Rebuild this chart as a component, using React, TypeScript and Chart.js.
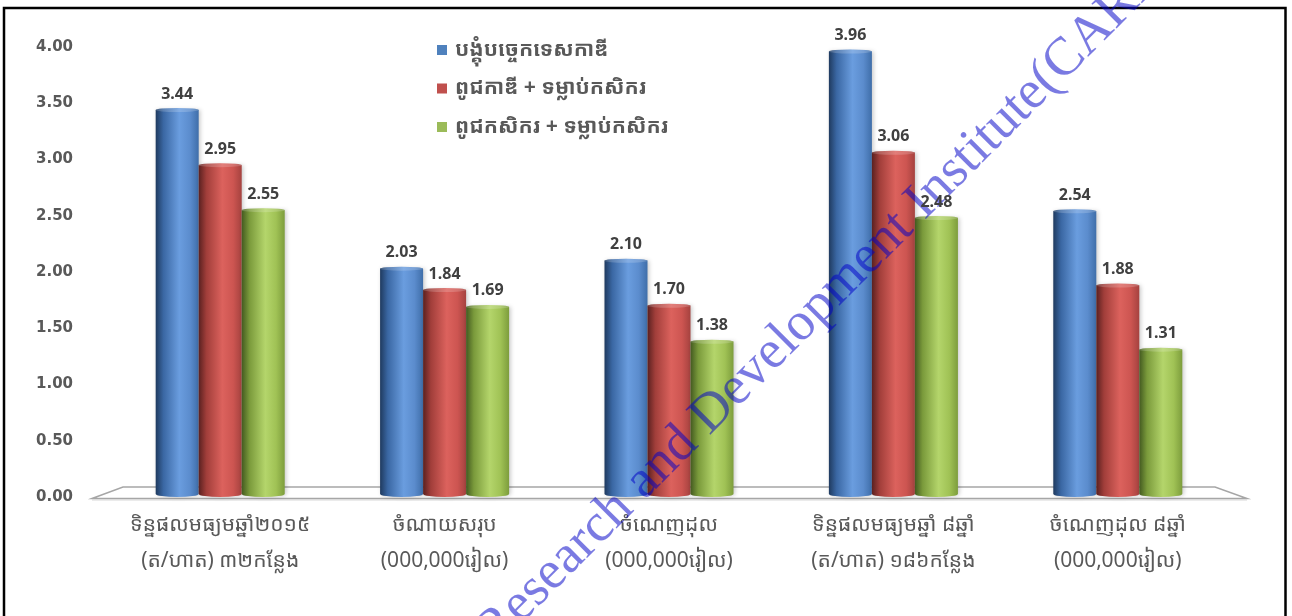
import React, { useEffect, useRef } from 'react';
import { Chart, registerables } from 'chart.js';

Chart.register(...registerables);

// Categories (two-line axis labels)
const categories: string[][] = [
  ['ទិន្នផលមធ្យមឆ្នាំ២០១៥', '(ត/ហាត) ៣២កន្លែង'],
  ['ចំណាយសរុប', '(000,000រៀល)'],
  ['ចំណេញដុល', '(000,000រៀល)'],
  ['ទិន្នផលមធ្យមឆ្នាំ ៨ឆ្នាំ', '(ត/ហាត) ១៨៦កន្លែង'],
  ['ចំណេញដុល ៨ឆ្នាំ', '(000,000រៀល)'],
];

// Series
const seriesNames: string[] = [
  'បង្គុំបច្ចេកទេសកាឌី',
  'ពូជកាឌី + ទម្លាប់កសិករ',
  'ពូជកសិករ + ទម្លាប់កសិករ',
];
const cardiPackage: number[] = [3.44, 2.03, 2.1, 3.96, 2.54];
const cardiVarietyFarmerPractice: number[] = [2.95, 1.84, 1.7, 3.06, 1.88];
const farmerVarietyFarmerPractice: number[] = [2.55, 1.69, 1.38, 2.48, 1.31];

// Value axis
const yMin = 0;
const yMax = 4;
const yStep = 0.5;

const watermarkText = 'Research and Development Institute(CARDI)';

const KHMER_FONT = "'Noto Sans Khmer', 'Khmer OS', 'Khmer OS System', 'Noto Sans', sans-serif";

const flatColors = ['#4f81bd', '#c0504d', '#9bbb59'];
const cylinderStops: Array<Array<[number, string]>> = [
  [
    [0, '#1f3a5f'],
    [0.18, '#3a67a3'],
    [0.55, '#6a9ddf'],
    [0.8, '#5b8ccd'],
    [1, '#3f6ea9'],
  ],
  [
    [0, '#5a2120'],
    [0.18, '#a13e3a'],
    [0.55, '#dc625d'],
    [0.8, '#cd5551'],
    [1, '#a5423f'],
  ],
  [
    [0, '#435a20'],
    [0.18, '#7a9a3b'],
    [0.55, '#b4d56b'],
    [0.8, '#a0c255'],
    [1, '#7d9d3c'],
  ],
];

function cylinderPath(ctx: CanvasRenderingContext2D, cx: number, top: number, bottom: number, w: number, ry: number) {
  const left = cx - w / 2;
  const right = cx + w / 2;
  ctx.beginPath();
  ctx.moveTo(left, top);
  ctx.lineTo(left, bottom - ry);
  ctx.ellipse(cx, bottom - ry, w / 2, ry, 0, Math.PI, 0, true);
  ctx.lineTo(right, top);
  ctx.closePath();
}

const framePlugin = {
  id: 'frame',
  beforeDraw(chart: any) {
    const ctx = chart.ctx as CanvasRenderingContext2D;
    ctx.save();
    ctx.strokeStyle = '#000';
    ctx.lineWidth = 2.5;
    ctx.beginPath();
    ctx.moveTo(4, chart.height + 10);
    ctx.lineTo(4, 8);
    ctx.lineTo(1285.5, 8);
    ctx.lineTo(1285.5, chart.height + 10);
    ctx.stroke();
    ctx.restore();
  },
};

const floorPlugin = {
  id: 'floor',
  beforeDatasetsDraw(chart: any) {
    const ctx = chart.ctx as CanvasRenderingContext2D;
    const { left, right, bottom } = chart.chartArea;
    const backY = bottom - 10;
    const frontY = bottom + 1.5;
    ctx.save();
    ctx.strokeStyle = '#a6a6a6';
    ctx.lineWidth = 1.5;
    ctx.beginPath();
    ctx.moveTo(left - 16, frontY);
    ctx.lineTo(left + 15, backY);
    ctx.lineTo(right - 15, backY);
    ctx.lineTo(right + 17, frontY);
    ctx.closePath();
    ctx.stroke();
    ctx.strokeStyle = 'rgba(190,190,190,0.6)';
    ctx.lineWidth = 1;
    ctx.beginPath();
    ctx.moveTo(left - 16, frontY + 1.5);
    ctx.lineTo(right + 17, frontY + 1.5);
    ctx.stroke();
    ctx.restore();
  },
};

const cylinderPlugin = {
  id: 'cylinders',
  afterDatasetsDraw(chart: any) {
    const ctx = chart.ctx as CanvasRenderingContext2D;
    ctx.save();
    chart.data.datasets.forEach((_ds: any, di: number) => {
      const meta = chart.getDatasetMeta(di);
      meta.data.forEach((el: any) => {
        const { x, y, base, width } = el;
        const g = ctx.createLinearGradient(x - width / 2, 0, x + width / 2, 0);
        cylinderStops[di].forEach(([o, c]) => g.addColorStop(o, c));
        ctx.save();
        ctx.shadowColor = 'rgba(0,0,0,0.22)';
        ctx.shadowBlur = 4;
        ctx.shadowOffsetX = 1.5;
        ctx.shadowOffsetY = 0;
        cylinderPath(ctx, x, y, base, width, 3);
        ctx.fillStyle = g;
        ctx.fill();
        ctx.restore();
        // top cap
        ctx.beginPath();
        ctx.ellipse(x, y, width / 2, 2, 0, 0, Math.PI * 2);
        ctx.fillStyle = g;
        ctx.fill();
        ctx.fillStyle = 'rgba(255,255,255,0.18)';
        ctx.fill();
      });
    });
    ctx.restore();

    // watermark across the plot
    ctx.save();
    ctx.translate(495, 650);
    ctx.rotate(-Math.PI / 4);
    ctx.font = "54px 'Liberation Serif', 'DejaVu Serif', serif";
    ctx.fillStyle = 'rgba(0,0,200,0.52)';
    ctx.textAlign = 'left';
    ctx.textBaseline = 'alphabetic';
    ctx.fillText(watermarkText, 0, 0);
    ctx.restore();

    // value labels above each bar
    ctx.save();
    ctx.font = "bold 16px 'Noto Sans', 'Open Sans', sans-serif";
    ctx.fillStyle = '#404040';
    ctx.textAlign = 'center';
    ctx.textBaseline = 'middle';
    chart.data.datasets.forEach((ds: any, di: number) => {
      const meta = chart.getDatasetMeta(di);
      meta.data.forEach((el: any, i: number) => {
        ctx.fillText(Number(ds.data[i]).toFixed(2), el.x, el.y - 16);
      });
    });
    ctx.restore();
  },
};

const legendPlugin = {
  id: 'boxLegend',
  afterDraw(chart: any) {
    const ctx = chart.ctx as CanvasRenderingContext2D;
    const { left, top } = chart.chartArea;
    const x0 = left + 329;
    const y0 = top + 3;
    const rowGap = 38.5;
    ctx.save();
    ctx.font = `bold 21px ${KHMER_FONT}`;
    ctx.textBaseline = 'middle';
    ctx.textAlign = 'left';
    chart.data.datasets.forEach((ds: any, di: number) => {
      const cy = y0 + di * rowGap;
      ctx.fillStyle = flatColors[di];
      ctx.fillRect(x0, cy - 5, 10, 10);
      ctx.fillStyle = '#595959';
      ctx.fillText(ds.label, x0 + 18, cy);
    });
    ctx.restore();
  },
};

export default function App() {
  const canvasRef = useRef<HTMLCanvasElement | null>(null);

  useEffect(() => {
    const canvas = canvasRef.current;
    if (!canvas) return;
    const seriesValues = [cardiPackage, cardiVarietyFarmerPractice, farmerVarietyFarmerPractice];
    const chart = new Chart(canvas, {
      type: 'bar',
      data: {
        labels: categories,
        datasets: seriesValues.map((vals, i) => ({
          label: seriesNames[i],
          data: vals,
          backgroundColor: 'rgba(0,0,0,0)',
          borderWidth: 0,
          categoryPercentage: 0.575,
          barPercentage: 1.0,
        })),
      },
      options: {
        animation: false,
        responsive: true,
        maintainAspectRatio: false,
        layout: { padding: { left: 0, right: 62, top: 47, bottom: 0 } },
        plugins: {
          legend: { display: false },
          tooltip: { enabled: false },
        },
        scales: {
          x: {
            grid: { display: false, drawTicks: false },
            border: { display: false },
            ticks: {
              color: '#595959',
              padding: 10,
              maxRotation: 0,
              autoSkip: false,
              font: { family: KHMER_FONT, size: 21, lineHeight: 1.72 },
            },
            afterFit: (s: any) => {
              s.height = 119;
            },
          },
          y: {
            min: yMin,
            max: yMax,
            grid: { display: false, drawTicks: false },
            border: { display: false },
            ticks: {
              stepSize: yStep,
              padding: 35,
              color: '#595959',
              font: { family: "'DejaVu Sans', Verdana, sans-serif", size: 15, weight: 'bold' },
              callback: (v: any) => Number(v).toFixed(2),
            },
            afterFit: (s: any) => {
              s.width = 108;
            },
          },
        },
      },
      plugins: [framePlugin, floorPlugin, cylinderPlugin, legendPlugin],
    });
    return () => chart.destroy();
  }, []);

  return (
    <div style={{ position: 'absolute', left: 0, top: 0, width: 1292, height: 616, background: '#fff' }}>
      <canvas ref={canvasRef} />
    </div>
  );
}
